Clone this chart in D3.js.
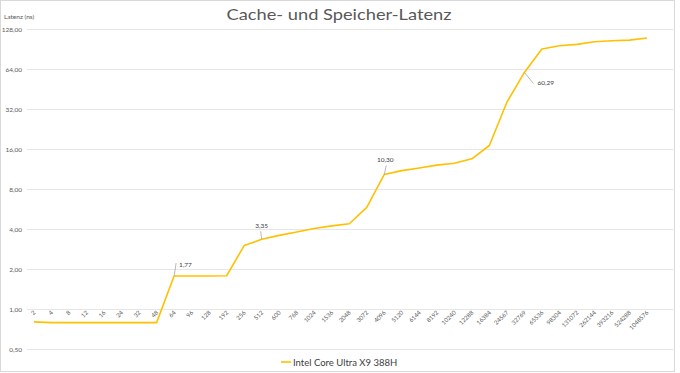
<!DOCTYPE html>
<html><head><meta charset="utf-8">
<script src="https://cdn.jsdelivr.net/npm/d3@7"></script>
<style>body{margin:0;background:#fff}svg{display:block}text{font-family:"Lato","DejaVu Sans",sans-serif}</style>
</head><body><svg id="c" width="680" height="373"></svg>
<script>
const categories = ["2","4","8","12","16","24","32","48","64","96","128","192","256","512","600","768","1024","1536","2048","3072","4096","5120","6144","8192","10240","12288","16384","24567","32769","65536","98304","131072","262144","393216","524288","1048576"];
const latency = [0.80,0.79,0.79,0.79,0.79,0.79,0.79,0.79,1.77,1.77,1.77,1.78,3.00,3.35,3.58,3.80,4.03,4.22,4.38,5.82,10.30,11.00,11.50,12.10,12.50,13.50,17.00,36.00,60.29,90.50,95.80,98.00,102.50,104.50,105.50,109.50];
const yTicks = [0.5,1,2,4,8,16,32,64,128];
const labeled = {"64":1.77,"512":3.35,"4096":10.30,"32769":60.29};
const seriesName = "Intel Core Ultra X9 388H";
const title = "Cache- und Speicher-Latenz";

const svg = d3.select("#c");
const fmt = v => d3.format(".2f")(v).replace(".", ",");

svg.append("rect").attr("x",0.5).attr("y",0.5).attr("width",674).attr("height",371)
  .attr("fill","#fff").attr("stroke","#d9d9d9").attr("stroke-width",1);

const y = d3.scaleLog().base(2).domain([0.5,128]).range([349,29]);
const x = d3.scalePoint().domain(categories).range([34,647]);

const grid = svg.append("g");
yTicks.forEach(t=>{
  grid.append("line").attr("x1",27).attr("x2",673).attr("y1",Math.round(y(t))+0.5).attr("y2",Math.round(y(t))+0.5)
    .attr("stroke","#e6e6e6").attr("stroke-width",1);
});
const yAxis = d3.axisLeft(y).tickValues(yTicks).tickFormat(fmt).tickSize(0).tickPadding(0);
const ya = svg.append("g").attr("transform","translate(22,0)").call(yAxis);
ya.select(".domain").remove();
ya.selectAll("text").attr("fill","#595959").style("font-size","6.5px");

svg.append("text").attr("x",4).attr("y",19).text("Latenz (ns)").attr("fill","#595959").style("font-size","6.5px");

svg.append("text").attr("x",339).attr("y",19.5).attr("text-anchor","middle").text(title)
  .attr("fill","#595959").style("font-size","16px").attr("textLength",225).attr("lengthAdjust","spacingAndGlyphs");

// x labels
const xa = svg.append("g");
categories.forEach(c=>{
  xa.append("text").attr("transform",`translate(${x(c)+2},313) rotate(-45)`).attr("text-anchor","end")
    .text(c).attr("fill","#595959").style("font-size","6px");
});

const data = categories.map((c,i)=>({c, v: latency[i]}));
const line = d3.line().x(d=>x(d.c)).y(d=>y(d.v));
svg.append("path").datum(data).attr("d",line).attr("fill","none").attr("stroke","#FFC000").attr("stroke-width",1.6).attr("stroke-linejoin","round");

// annotations
const ann = [
  {c:"64", dx:2, dy:-13, tx:5, ty:-9, anchor:"start"},
  {c:"512", dx:-1, dy:-8, tx:0, ty:-11, anchor:"middle"},
  {c:"4096", dx:2, dy:-9, tx:1, ty:-12, anchor:"middle"},
  {c:"32769", dx:9, dy:11, tx:13, ty:13, anchor:"start"}
];
ann.forEach(a=>{
  const px = x(a.c), py = y(labeled[a.c]);
  svg.append("line").attr("x1",px).attr("y1",py).attr("x2",px+a.dx).attr("y2",py+a.dy).attr("stroke","#a6a6a6").attr("stroke-width",0.8);
  svg.append("text").attr("x",px+a.tx).attr("y",py+a.ty).attr("text-anchor",a.anchor).text(fmt(labeled[a.c]))
    .attr("fill","#404040").style("font-size","6.5px");
});

// legend
svg.append("line").attr("x1",281).attr("x2",291).attr("y1",362).attr("y2",362).attr("stroke","#FFC000").attr("stroke-width",1.6);
svg.append("text").attr("x",293).attr("y",365.5).text(seriesName).attr("fill","#404040").style("font-size","9.5px");
</script></body></html>
